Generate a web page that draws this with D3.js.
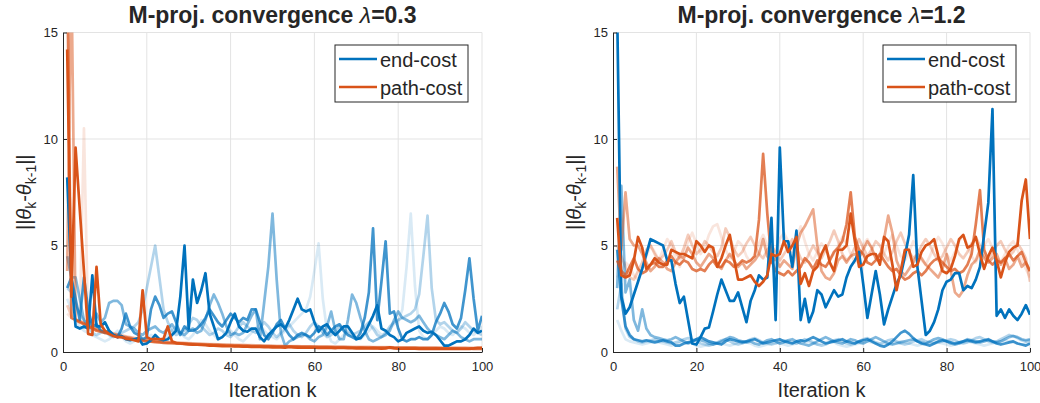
<!DOCTYPE html>
<html><head><meta charset="utf-8">
<script src="https://cdn.jsdelivr.net/npm/d3@7"></script>
<style>body{margin:0;background:#fff}svg{display:block}text{font-family:"Liberation Sans",Arial,Helvetica,sans-serif;fill:#262626}</style>
</head><body><svg id="c" width="1040" height="403"></svg>
<script>
// ---------- data (iteration k = 1..100) ----------
const xTicks = [0, 20, 40, 60, 80, 100];
const yTicks = [0, 5, 10, 15];
const seriesNames = ["end-cost", "path-cost"];
const titles = ["M-proj. convergence ", "M-proj. convergence "];
const lambdas = ["0.3", "1.2"];
const runAlpha = [1, 0.75, 0.5, 0.3, 0.15];

// lambda = 0.3, end-cost runs
const L_B1 = [8.2,3.5,1.2,1.1,1.2,1.1,3.6,1.2,1.2,1.4,
 1.0,0.8,0.7,0.75,0.6,0.55,0.6,0.65,0.35,0.4,
 0.55,0.8,0.6,0.55,0.6,0.8,1.0,2.6,5.0,1.1,
 3.4,2.3,2.9,3.7,1.8,1.2,0.6,0.7,0.9,1.4,
 1.8,1.2,1.0,0.95,1.1,1.1,0.7,0.5,0.8,1.0,
 1.2,1.3,1.1,1.5,2.0,2.5,2.0,1.9,2.0,1.4,
 0.95,1.2,1.3,1.0,0.8,1.0,1.2,1.2,0.9,0.6,
 0.65,0.9,1.3,1.7,2.2,1.1,1.0,0.8,0.7,0.5,
 0.6,0.9,1.0,1.1,1.2,1.0,0.9,0.95,0.8,0.55,
 0.3,0.3,0.4,0.5,0.5,0.6,0.8,1.1,0.9,1.0];
const L_B2 = [3.0,3.5,2.5,1.5,3.5,2.0,1.2,1.3,1.0,0.9,
 1.0,0.8,0.7,1.1,1.8,1.2,0.9,0.8,0.6,0.7,
 2.0,2.6,2.2,1.6,1.8,1.9,1.4,0.8,1.2,1.0,
 1.0,1.1,1.3,1.6,2.0,1.7,1.4,1.2,1.5,1.8,
 1.6,1.4,1.6,1.5,2.0,2.0,1.4,0.8,0.6,0.9,
 1.3,1.5,1.1,0.8,0.6,0.8,0.9,0.8,0.7,0.9,
 1.2,1.1,0.8,1.0,1.2,1.3,1.0,0.8,0.7,0.6,
 0.9,1.6,2.8,5.8,1.5,3.3,5.2,1.8,1.9,1.1,
 0.6,0.5,0.6,0.6,0.7,0.6,0.6,0.8,1.4,1.8,
 2.3,1.9,1.3,1.1,1.6,2.9,4.4,2.5,1.0,1.7];
const L_B3 = [4.5,3.5,3.5,2.5,1.5,1.2,1.5,1.8,1.4,1.6,
 2.3,2.4,2.4,2.2,1.3,1.2,1.1,0.9,0.8,1.0,
 1.1,1.2,1.0,0.9,1.1,1.3,1.0,0.9,0.8,1.0,
 1.1,0.9,1.0,1.5,2.2,2.7,2.3,1.8,1.2,0.8,
 0.9,0.8,0.9,1.3,1.7,2.0,0.6,2.3,4.0,6.5,
 3.4,0.9,0.3,0.5,0.6,0.7,0.8,0.8,0.6,0.5,
 0.7,0.8,1.2,1.9,1.0,0.6,0.6,1.5,2.7,2.3,
 1.6,1.0,0.6,0.5,0.6,0.7,0.8,1.0,1.5,1.9,
 1.6,1.5,1.4,1.5,1.7,1.4,1.1,0.9,0.8,0.7,
 0.6,0.8,1.0,0.9,0.7,0.6,0.5,0.6,0.6,0.6];
const L_B4 = [3.0,2.8,2.2,1.8,1.5,1.2,0.9,0.8,0.9,1.0,
 0.8,0.7,0.8,0.9,1.0,1.1,1.2,1.4,2.0,3.0,
 4.0,5.0,3.5,2.0,1.4,1.0,0.8,0.9,1.0,1.3,
 1.6,1.5,1.2,1.0,0.8,0.9,1.1,1.0,0.8,0.7,
 0.9,1.2,1.4,1.2,1.0,0.9,1.1,1.4,1.2,0.9,
 0.7,0.9,1.1,1.3,1.0,0.8,0.7,0.9,1.2,1.4,
 1.2,0.9,0.7,0.8,1.0,1.2,1.1,0.9,0.8,0.9,
 1.0,1.2,1.4,1.1,0.8,0.7,0.9,1.2,1.4,1.5,
 1.6,1.7,1.8,2.0,2.7,4.5,6.4,3.0,1.5,1.3,
 1.4,1.2,1.0,0.9,1.1,1.4,1.2,1.0,0.9,0.8];
const L_B5 = [2.5,2.0,1.5,1.2,1.0,0.9,0.8,0.7,0.6,0.5,
 0.6,0.8,1.0,0.7,0.5,0.4,0.5,0.6,0.5,0.6,
 0.8,0.7,0.5,0.6,0.8,1.0,1.2,0.9,0.7,0.6,
 0.8,1.1,1.5,1.3,1.0,0.8,0.6,0.7,0.9,1.0,
 0.8,0.6,0.5,0.7,0.9,1.1,1.3,1.0,0.8,0.7,
 0.6,0.8,1.0,1.2,1.4,1.6,1.8,2.0,2.6,3.8,
 5.1,2.5,1.0,0.5,0.4,0.6,0.8,1.0,0.9,0.7,
 0.6,0.8,1.0,1.2,1.0,0.8,0.9,1.1,1.3,1.4,
 2.0,4.0,6.5,3.1,1.0,0.7,0.6,0.8,1.0,1.2,
 1.1,0.9,0.8,1.0,1.2,1.1,0.9,0.8,1.0,1.2];

// lambda = 0.3, path-cost runs
const L_O1 = [14.2,2.6,9.6,6.7,3.8,0.85,0.8,4.0,1.3,1.0,
 0.85,0.75,0.7,0.7,0.62,0.6,0.55,0.5,2.9,0.7,
 0.6,0.62,0.6,0.62,1.2,0.5,0.42,0.4,0.38,0.36,
 0.35,0.34,0.33,0.32,0.3,0.3,0.29,0.28,0.27,0.27,
 0.26,0.26,0.25,0.25,0.24,0.24,0.24,0.23,0.23,0.22,
 0.22,0.22,0.2,0.24,0.22,0.21,0.21,0.2,0.2,0.2,
 0.19,0.2,0.19,0.19,0.18,0.2,0.19,0.18,0.18,0.17,
 0.18,0.17,0.17,0.18,0.17,0.16,0.17,0.22,0.18,0.16,
 0.16,0.17,0.16,0.16,0.15,0.16,0.15,0.15,0.16,0.15,
 0.15,0.14,0.15,0.15,0.14,0.14,0.15,0.17,0.2,0.2];
const L_O2 = [18,1.6,1.5,1.4,1.3,1.2,1.1,1.0,0.95,0.9,
 0.85,0.8,0.75,0.7,0.66,0.62,0.58,0.55,0.52,0.5,
 0.48,0.46,0.45,0.43,0.42,0.41,0.4,0.39,0.38,0.37,
 0.36,0.35,0.34,0.34,0.33,0.32,0.32,0.31,0.3,0.3,
 0.29,0.29,0.28,0.28,0.27,0.27,0.27,0.26,0.26,0.26,
 0.25,0.25,0.25,0.24,0.24,0.24,0.23,0.23,0.23,0.23,
 0.22,0.22,0.22,0.22,0.21,0.21,0.21,0.21,0.2,0.2,
 0.2,0.2,0.2,0.19,0.19,0.19,0.19,0.19,0.18,0.18,
 0.18,0.18,0.18,0.18,0.17,0.17,0.17,0.17,0.17,0.17,
 0.16,0.16,0.16,0.16,0.16,0.16,0.16,0.15,0.15,0.15];
const L_O3 = [3.8,18,1.5,1.45,1.35,1.25,1.15,1.05,1.0,0.95,
 0.9,0.84,0.79,0.74,0.7,0.66,0.62,0.59,0.56,0.53,
 0.51,0.49,0.47,0.45,0.44,0.43,0.42,0.41,0.4,0.39,
 0.38,0.37,0.36,0.35,0.35,0.34,0.33,0.33,0.32,0.32,
 0.31,0.31,0.3,0.3,0.29,0.29,0.29,0.28,0.28,0.27,
 0.27,0.27,0.26,0.26,0.26,0.25,0.25,0.25,0.25,0.24,
 0.24,0.24,0.24,0.23,0.23,0.23,0.23,0.22,0.22,0.22,
 0.22,0.22,0.21,0.21,0.21,0.21,0.21,0.2,0.2,0.2,
 0.2,0.2,0.2,0.19,0.19,0.19,0.19,0.19,0.19,0.18,
 0.18,0.18,0.18,0.18,0.18,0.18,0.17,0.17,0.17,0.17];
const L_O4 = [2.2,1.7,1.55,1.45,1.35,1.3,1.2,1.1,1.05,1.0,
 0.94,0.88,0.83,0.78,0.74,0.7,0.66,0.63,0.6,0.57,
 0.55,0.53,0.51,0.49,0.47,0.46,0.45,0.44,0.43,0.42,
 0.41,0.4,0.39,0.38,0.37,0.37,0.36,0.35,0.35,0.34,
 0.34,0.33,0.33,0.32,0.32,0.31,0.31,0.3,0.3,0.3,
 0.29,0.29,0.29,0.28,0.28,0.28,0.27,0.27,0.27,0.27,
 0.26,0.26,0.26,0.26,0.25,0.25,0.25,0.25,0.24,0.24,
 0.24,0.24,0.24,0.23,0.23,0.23,0.23,0.23,0.22,0.22,
 0.22,0.22,0.22,0.22,0.21,0.21,0.21,0.21,0.21,0.21,
 0.2,0.2,0.2,0.2,0.2,0.2,0.2,0.2,0.19,0.19];
const L_O5 = [1.8,1.6,1.5,1.4,10.5,1.2,1.1,1.05,1.0,0.95,
 0.9,0.85,0.8,0.75,0.7,0.67,0.64,0.61,0.58,0.55,
 0.53,0.51,0.49,0.47,0.46,0.45,0.44,0.43,0.42,0.41,
 0.4,0.39,0.38,0.37,0.36,0.36,0.35,0.34,0.34,0.33,
 0.33,0.32,0.32,0.31,0.31,0.3,0.3,0.3,0.29,0.29,
 0.28,0.28,0.28,0.27,0.27,0.27,0.26,0.26,0.26,0.26,
 0.25,0.25,0.25,0.25,0.24,0.24,0.24,0.24,0.23,0.23,
 0.23,0.23,0.23,0.22,0.22,0.22,0.22,0.22,0.21,0.21,
 0.21,0.21,0.21,0.21,0.2,0.2,0.2,0.2,0.2,0.2,
 0.2,0.19,0.19,0.19,0.19,0.19,0.19,0.19,0.18,0.18];

// lambda = 1.2, end-cost runs
const R_B1 = [16,2.6,1.8,2.1,2.7,3.3,3.9,4.6,5.3,5.2,
 5.1,5.0,4.3,4.3,3.2,2.3,2.6,1.5,0.4,0.35,
 0.7,1.1,1.15,1.9,2.7,3.4,2.9,2.4,2.4,2.8,
 2.1,1.4,2.4,2.9,3.6,3.4,3.5,6.3,1.5,9.6,
 5.2,5.2,4.0,5.7,1.5,2.5,1.4,1.9,2.9,2.7,
 2.1,2.5,2.9,2.6,2.7,3.5,4.0,4.3,4.7,3.2,
 1.6,2.7,3.8,2.7,1.3,2.0,2.6,3.2,3.6,4.5,
 5.5,8.3,4.0,2.4,0.8,1.0,1.4,2.0,2.9,3.3,
 3.4,3.7,3.7,2.9,3.1,3.0,3.4,4.0,5.5,7.0,
 11.4,1.7,2.0,1.6,2.0,1.7,1.5,1.8,2.2,1.75];
const R_B2 = [4.8,2.5,1.2,0.8,0.6,0.55,0.5,0.55,0.5,0.45,
 0.5,0.55,0.5,0.45,0.3,0.3,0.4,0.45,0.5,0.6,
 0.7,0.6,0.5,0.45,0.4,0.35,0.5,0.6,0.55,0.5,
 0.45,0.5,0.55,0.6,0.5,0.4,0.45,0.5,0.55,0.6,
 0.5,0.45,0.4,0.5,0.55,0.5,0.6,0.7,0.6,0.5,
 0.4,0.45,0.5,0.55,0.6,0.5,0.45,0.4,0.5,0.55,
 0.6,0.5,0.4,0.3,0.25,0.35,0.5,0.7,0.9,1.0,
 0.85,0.65,0.5,0.4,0.35,0.3,0.4,0.5,0.55,0.5,
 0.45,0.4,0.45,0.5,0.55,0.5,0.45,0.5,0.55,0.6,
 0.5,0.4,0.35,0.4,0.45,0.5,0.4,0.35,0.3,0.4];
const R_B3 = [3.0,7.8,2.8,3.4,1.5,1.0,2.0,1.1,0.8,0.7,
 0.65,0.6,0.55,0.6,0.7,0.6,0.5,0.4,0.5,0.6,
 0.55,0.5,0.4,0.35,0.4,0.5,0.6,0.7,0.65,0.55,
 0.5,0.45,0.5,0.4,0.35,0.45,0.55,0.6,0.5,0.4,
 0.45,0.55,0.6,0.5,0.4,0.35,0.3,0.4,0.5,0.6,
 0.7,0.6,0.5,0.45,0.4,0.5,0.6,0.55,0.45,0.4,
 0.5,0.6,0.7,0.6,0.5,0.4,0.35,0.4,0.45,0.5,
 0.55,0.6,0.5,0.45,0.4,0.5,0.6,0.65,0.6,0.5,
 0.4,0.35,0.4,0.5,0.6,0.55,0.5,0.45,0.5,0.55,
 0.5,0.45,0.5,0.6,0.7,0.75,0.7,0.6,0.55,0.6];
const R_B4 = [2.0,3.2,1.1,0.7,0.6,0.5,0.45,0.5,0.55,0.6,
 0.55,0.5,0.45,0.4,0.45,0.5,0.6,0.65,0.6,0.5,
 0.4,0.35,0.3,0.35,0.45,0.55,0.6,0.5,0.4,0.35,
 0.4,0.5,0.6,0.65,0.55,0.45,0.4,0.35,0.4,0.5,
 0.55,0.5,0.45,0.4,0.5,0.6,0.55,0.45,0.35,0.3,
 0.35,0.45,0.55,0.6,0.5,0.4,0.35,0.4,0.5,0.6,
 0.65,0.55,0.45,0.4,0.45,0.55,0.6,0.5,0.4,0.35,
 0.4,0.5,0.55,0.6,0.5,0.45,0.4,0.45,0.5,0.55,
 0.6,0.55,0.45,0.4,0.45,0.55,0.65,0.7,0.6,0.5,
 0.45,0.5,0.6,0.7,0.8,0.75,0.65,0.55,0.5,0.55];
const R_B5 = [1.5,1.0,0.6,0.5,0.45,0.4,0.35,0.4,0.45,0.5,
 0.45,0.4,0.35,0.3,0.35,0.4,0.5,0.45,0.4,0.3,
 0.25,0.3,0.35,0.4,0.45,0.4,0.35,0.3,0.35,0.45,
 0.5,0.45,0.4,0.3,0.25,0.3,0.35,0.4,0.45,0.4,
 0.35,0.3,0.35,0.4,0.45,0.5,0.45,0.4,0.35,0.4,
 0.45,0.5,0.45,0.35,0.3,0.25,0.3,0.35,0.4,0.45,
 0.5,0.45,0.4,0.35,0.3,0.35,0.4,0.45,0.5,0.45,
 0.4,0.35,0.3,0.35,0.4,0.45,0.5,0.45,0.4,0.35,
 0.3,0.35,0.4,0.45,0.5,0.45,0.4,0.35,0.3,0.35,
 0.4,0.45,0.5,0.55,0.5,0.45,0.4,0.35,0.4,0.45];

// lambda = 1.2, path-cost runs
const R_O1 = [6.3,3.6,3.5,3.6,4.3,5.4,4.9,3.9,4.1,4.4,
 4.2,4.1,4.1,4.8,4.7,4.6,4.6,4.5,4.4,5.2,
 5.0,4.7,5.0,4.9,4.0,4.4,5.0,5.5,4.4,3.4,
 3.4,3.5,3.6,3.3,3.1,3.3,3.6,4.6,4.5,4.6,
 5.2,4.7,5.0,5.4,3.2,3.7,3.1,3.8,4.0,4.6,
 5.0,4.2,3.8,4.8,4.8,5.0,6.5,5.2,4.0,4.1,
 4.5,4.6,4.6,4.1,5.4,5.2,4.1,2.9,3.8,4.8,
 4.8,4.0,4.1,4.7,5.0,5.1,5.3,4.5,3.8,3.7,
 3.9,4.5,5.3,5.5,4.9,5.0,5.4,4.6,3.9,4.5,
 4.9,4.3,3.5,4.2,4.7,4.9,5.0,7.1,8.1,5.3];
const R_O2 = [4.3,3.8,3.6,4.0,4.4,3.9,3.7,3.8,4.1,4.2,
 4.0,4.0,4.3,4.5,4.2,4.1,4.3,4.2,3.9,3.8,
 3.9,3.8,4.1,4.3,4.0,4.0,4.3,4.2,4.0,4.1,
 4.3,4.2,4.3,4.5,6.2,9.3,6.5,4.3,3.8,3.7,
 3.6,3.8,3.6,3.8,4.0,4.4,4.2,3.9,4.3,4.1,
 4.0,4.3,4.7,4.9,5.2,6.0,7.5,5.4,4.8,4.6,
 4.2,4.1,4.3,4.6,4.3,4.0,3.8,3.9,3.6,3.4,
 3.5,3.7,3.8,3.6,3.8,4.1,4.3,4.4,4.2,4.0,
 3.8,3.9,3.7,3.8,4.1,4.6,6.0,7.6,4.8,4.3,
 4.1,4.3,4.2,4.4,4.6,4.3,4.5,4.7,4.2,3.8];
const R_O3 = [8.7,4.8,7.5,5.3,5.0,5.0,4.6,4.2,3.8,4.0,
 4.4,4.2,3.9,3.8,4.2,4.5,4.4,4.9,4.6,4.2,
 4.0,4.3,4.6,4.4,4.1,3.9,4.3,4.6,4.3,4.0,
 4.2,3.9,4.1,4.3,4.6,5.3,4.5,4.2,4.4,4.0,
 4.3,4.1,3.9,5.0,5.6,5.9,6.3,6.7,5.0,3.8,
 3.5,3.4,3.7,4.3,4.5,4.2,4.5,4.6,4.4,4.8,
 5.2,4.9,4.4,4.5,5.3,6.4,5.6,4.3,3.8,3.6,
 3.9,4.2,4.6,4.4,4.1,3.9,3.7,3.5,3.9,4.6,
 3.8,2.8,2.6,2.9,3.6,4.1,4.3,4.8,4.4,4.2,
 4.4,4.6,4.1,4.4,3.9,4.1,4.5,4.0,4.2,3.8];
const R_O4 = [5.0,4.5,4.0,3.5,3.4,3.8,4.2,4.8,5.0,4.6,
 4.3,4.5,4.8,5.2,4.7,4.4,4.9,5.5,5.0,4.6,
 4.8,5.2,5.0,4.7,4.5,4.9,5.8,5.4,4.8,4.5,
 4.7,5.1,5.4,5.0,4.6,4.4,4.8,5.0,4.7,4.3,
 4.6,4.9,5.3,4.9,4.4,4.2,4.6,5.0,4.7,4.4,
 4.8,5.2,5.7,5.2,4.6,4.3,4.5,4.9,5.3,4.9,
 4.5,4.8,5.2,5.0,4.6,4.3,4.7,5.2,5.6,5.1,
 4.7,4.4,4.6,5.0,5.3,5.0,4.6,4.3,4.5,4.9,
 5.3,5.0,4.6,4.4,4.7,5.1,5.4,5.0,4.5,4.3,
 4.6,5.0,5.2,4.8,4.5,4.7,5.1,4.8,4.4,3.3];
const R_O5 = [3.5,3.8,4.2,4.0,3.6,3.4,3.9,4.5,5.0,4.7,
 4.3,4.8,5.3,5.0,4.4,4.0,4.6,5.2,5.6,5.1,
 4.6,4.9,5.5,5.9,6.0,5.4,4.8,4.4,4.7,5.2,
 5.0,4.5,4.2,4.6,5.1,5.5,5.0,4.5,4.8,5.3,
 5.6,5.2,4.7,5.3,5.9,5.2,4.6,4.3,4.7,5.1,
 4.8,4.4,4.6,5.0,5.4,5.1,4.6,4.2,4.5,5.0,
 5.3,4.9,4.4,4.2,4.6,5.1,5.5,5.0,4.5,4.3,
 4.7,5.2,4.8,4.3,4.1,4.5,5.0,5.4,5.1,4.6,
 4.3,4.7,5.2,5.5,5.0,4.5,4.2,4.6,5.0,5.3,
 4.9,4.4,4.2,4.6,5.0,5.2,4.8,4.3,3.9,3.5];

const panels = [
  {x0: 63, x1: 482, lam: lambdas[0], title: titles[0],
   blue: [L_B1, L_B2, L_B3, L_B4, L_B5], orange: [L_O1, L_O2, L_O3, L_O4, L_O5]},
  {x0: 613, x1: 1030, lam: lambdas[1], title: titles[1],
   blue: [R_B1, R_B2, R_B3, R_B4, R_B5], orange: [R_O1, R_O2, R_O3, R_O4, R_O5]}
];
const colors = ["#0072BD", "#D95319"];
const Y0 = 352, Y1 = 32.5;

const svg = d3.select("#c");
panels.forEach((p, pi) => {
  const x = d3.scaleLinear().domain([0, 100]).range([p.x0, p.x1]);
  const y = d3.scaleLinear().domain([0, 15]).range([Y0, Y1]);
  const g = svg.append("g");
  // grid
  g.selectAll(".gx").data(xTicks.slice(1)).join("line")
    .attr("x1", d => x(d)).attr("x2", d => x(d)).attr("y1", Y0).attr("y2", Y1)
    .attr("stroke", "#e3e3e3").attr("stroke-width", 1);
  g.selectAll(".gy").data(yTicks.slice(1)).join("line")
    .attr("y1", d => y(d)).attr("y2", d => y(d)).attr("x1", p.x0).attr("x2", p.x1)
    .attr("stroke", "#e3e3e3").attr("stroke-width", 1);
  // clip
  const cid = "clip" + pi;
  svg.append("clipPath").attr("id", cid).append("rect")
    .attr("x", p.x0).attr("y", Y1).attr("width", p.x1 - p.x0).attr("height", Y0 - Y1);
  const line = d3.line().x((d, i) => x(i + 1)).y(d => y(d));
  const lg = g.append("g").attr("clip-path", `url(#${cid})`);
  for (let r = runAlpha.length - 1; r >= 0; r--) {
    [p.blue[r], p.orange[r]].forEach((s, si) => {
      lg.append("path").datum(s).attr("d", line).attr("fill", "none")
        .attr("stroke", colors[si]).attr("stroke-opacity", runAlpha[r])
        .attr("stroke-width", 2.7).attr("stroke-linejoin", "round");
    });
  }
  // axes
  const ax = g.append("g").attr("transform", `translate(0,${Y0})`)
    .call(d3.axisBottom(x).tickValues(xTicks).tickSizeInner(-4).tickSizeOuter(0).tickPadding(10));
  const ay = g.append("g").attr("transform", `translate(${p.x0},0)`)
    .call(d3.axisLeft(y).tickValues(yTicks).tickSizeInner(-4).tickSizeOuter(0).tickPadding(5));
  [ax, ay].forEach(a => {
    a.select(".domain").attr("stroke", "#262626").attr("stroke-width", 1);
    a.selectAll(".tick line").attr("stroke", "#262626");
    a.selectAll(".tick text").attr("font-size", 13).attr("fill", "#262626")
      .style("font-family", '"Liberation Sans",Arial,sans-serif');
  });
  // title
  const cx = (p.x0 + p.x1) / 2;
  const t = g.append("text").attr("x", cx).attr("y", 23).attr("text-anchor", "middle")
    .attr("font-size", 23).attr("font-weight", "bold").attr("fill", "#000");
  t.append("tspan").text(p.title);
  t.append("tspan").attr("font-style", "italic").attr("font-weight", "normal").text("λ");
  t.append("tspan").text("=" + p.lam);
  // x label
  g.append("text").attr("x", cx).attr("y", 397).attr("text-anchor", "middle")
    .attr("font-size", 20).text("Iteration k");
  // y label
  const yl = g.append("text").attr("transform", `translate(${p.x0 - 32},${(Y0 + Y1) / 2}) rotate(-90)`)
    .attr("text-anchor", "middle").attr("font-size", 20);
  yl.append("tspan").text("||");
  yl.append("tspan").attr("font-style", "italic").text("θ");
  yl.append("tspan").attr("font-size", 14).attr("dy", 5).text("k");
  yl.append("tspan").attr("dy", -5).text("-");
  yl.append("tspan").attr("font-style", "italic").text("θ");
  yl.append("tspan").attr("font-size", 14).attr("dy", 5).text("k-1");
  yl.append("tspan").attr("dy", -5).text("||");
  // legend
  const lw = 133, lh = 57, lx = p.x1 - 14 - lw, ly = 45;
  const leg = g.append("g");
  leg.append("rect").attr("x", lx).attr("y", ly).attr("width", lw).attr("height", lh)
    .attr("fill", "#fff").attr("stroke", "#262626").attr("stroke-width", 1);
  seriesNames.forEach((n, i) => {
    const yy = ly + 14 + i * 28;
    leg.append("line").attr("x1", lx + 4).attr("x2", lx + 42).attr("y1", yy).attr("y2", yy)
      .attr("stroke", colors[i]).attr("stroke-width", 2.6);
    leg.append("text").attr("x", lx + 45).attr("y", yy + 8).attr("font-size", 20)
      .attr("fill", "#000").text(n);
  });
});
</script></body></html>
